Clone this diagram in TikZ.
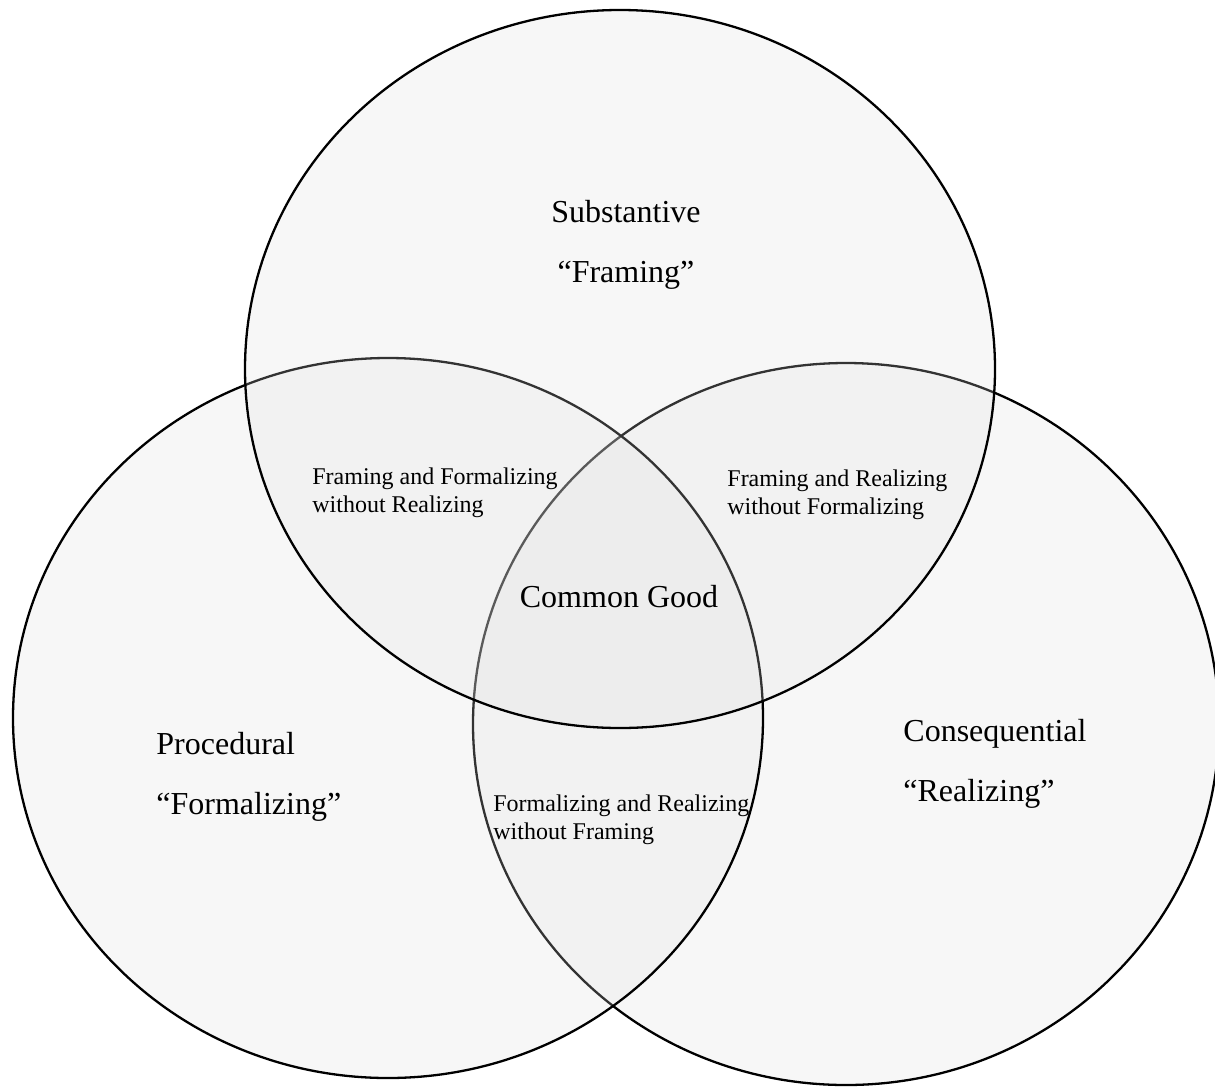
\documentclass[tikz,border=0pt]{standalone}
\usepackage{fontspec}
\setmainfont{Liberation Serif}
\usepackage{tikz}
\usetikzlibrary{positioning}

\begin{document}
\begin{tikzpicture}[x=0.5pt, y=-0.5pt,
    vennset/.style={draw=black, line width=1.15pt, fill=black!13, fill opacity=0.23, draw opacity=1},
    biglabel/.style={inner sep=0pt, font=\fontsize{16}{30}\selectfont},
    smalllabel/.style={inner sep=0pt, anchor=north west, align=left, font=\fontsize{12}{14}\selectfont}]
      \useasboundingbox (0, 0) rectangle (1215, 1087);

      % the three sets, drawn right, left, top
      \draw[vennset] (846, 724) ellipse [x radius=373, y radius=361];
      \draw[vennset] (388, 718) ellipse [x radius=375, y radius=360];
      \draw[vennset] (620, 369) ellipse [x radius=375, y radius=359];

      \node[biglabel, align=center, anchor=north] (subst) at (626, 200) {Substantive\\“Framing”};
      \node[biglabel, align=left, anchor=north west] (proc) at (156, 732) {Procedural\\“Formalizing”};
      \node[biglabel, align=left, anchor=north west] (cons) at (903, 719) {Consequential\\“Realizing”};

      \node[smalllabel] (framform) at (312, 467) {Framing and Formalizing\\without Realizing};
      \node[smalllabel] (framreal) at (727, 469) {Framing and Realizing\\without Formalizing};
      \node[smalllabel] (formreal) at (493, 794) {Formalizing and Realizing\\without Framing};

      \node[biglabel] (common) at (619, 597) {Common Good};
    \end{tikzpicture}
\end{document}
